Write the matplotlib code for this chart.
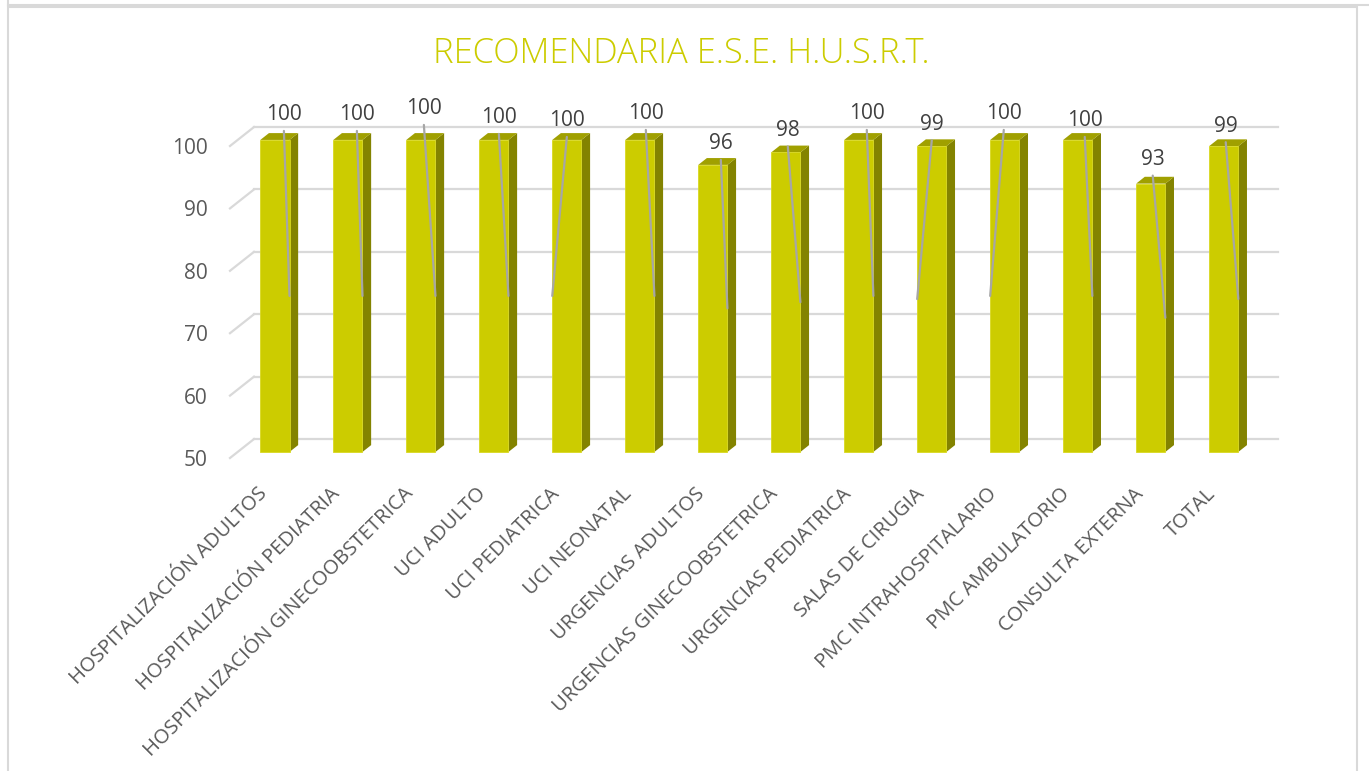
import matplotlib
matplotlib.use("Agg")
import matplotlib.pyplot as plt
from matplotlib.patches import Polygon, Rectangle, ConnectionPatch
from matplotlib.lines import Line2D
from matplotlib.transforms import offset_copy, blended_transform_factory

categories = [
    "HOSPITALIZACIÓN ADULTOS", "HOSPITALIZACIÓN PEDIATRIA",
    "HOSPITALIZACIÓN GINECOOBSTETRICA", "UCI ADULTO", "UCI PEDIATRICA",
    "UCI NEONATAL", "URGENCIAS ADULTOS", "URGENCIAS GINECOOBSTETRICA",
    "URGENCIAS PEDIATRICA", "SALAS DE CIRUGIA", "PMC INTRAHOSPITALARIO",
    "PMC AMBULATORIO", "CONSULTA EXTERNA", "TOTAL",
]
values = [100, 100, 100, 100, 100, 100, 96, 98, 100, 99, 100, 100, 93, 99]
yticks = [50, 60, 70, 80, 90, 100]

# label placement as drawn by Excel (pixel offsets from bar top) and leader side
label_dx = [9, 9, 3, 5, 0, 6, 8, 2, 8, 0, -1, 7, 2, 2]
label_dy = [27, 27, 33, 24, 21, 28, 23, 24, 28, 24, 28, 21, 26, 22]
leader_left = [4, 9, 10]

FRONT = "#CCCC00"
SIDE = "#838300"
TOP = "#A0A000"
GRID = "#D9D9D9"
TXT = "#595959"

plt.rcParams["font.family"] = ["Open Sans", "DejaVu Sans"]

fig = plt.figure(figsize=(13.69, 7.71), dpi=100)
ax = fig.add_axes([230 / 1369, 1 - 458 / 771, 1024 / 1369, 56 * 6.24 / 771])
ax.set_xlim(-0.51, 13.52)
ax.set_ylim(50, 106)
for s in ax.spines.values():
    s.set_visible(False)

# fake 3d depth: back wall shift in data units
kx, kv = 0.329, 3.04
d0, d1 = 0.32, 0.68
w = 0.4
x0, x1 = ax.get_xlim()

for v in yticks:
    ax.add_line(Line2D([x0, x0 + kx], [v, v + kv], color=GRID, lw=1.6, clip_on=False, zorder=1))
    ax.add_line(Line2D([x0 + kx, x1 + kx], [v + kv, v + kv], color=GRID, lw=1.6, clip_on=False, zorder=1))

xs = list(range(len(values)))
base = 50 + d0 * kv
fx = [x + d0 * kx for x in xs]
ax.bar(fx, [v - 50 for v in values], bottom=base, width=w, color=FRONT,
       edgecolor="#D8D820", linewidth=0.6, zorder=3)

ddx, ddv = (d1 - d0) * kx, (d1 - d0) * kv
for c, v in zip(fx, values):
    top = v + d0 * kv
    xl, xr = c - w / 2, c + w / 2
    ax.add_patch(Polygon([(xr, base), (xr, top), (xr + ddx, top + ddv), (xr + ddx, base + ddv)],
                         closed=True, facecolor=SIDE, edgecolor="none", zorder=2, clip_on=False))
    ax.add_patch(Polygon([(xl, top), (xr, top), (xr + ddx, top + ddv), (xl + ddx, top + ddv)],
                         closed=True, facecolor=TOP, edgecolor="none", zorder=2, clip_on=False))

for i, (c, v) in enumerate(zip(fx, values)):
    top = v + d0 * kv
    tr = offset_copy(ax.transData, fig=fig, x=label_dx[i], y=label_dy[i] - 7.5, units="dots")
    ax.text(c, top, str(v), transform=tr, ha="center", va="baseline", fontsize=15,
            color="#404040", zorder=5, clip_on=False)
    tr2 = offset_copy(ax.transData, fig=fig, x=label_dx[i], y=label_dy[i] - 18, units="dots")
    ex = c - w / 2 if i in leader_left else c + w / 2
    con = ConnectionPatch(xyA=(c, top), coordsA=tr2, xyB=(ex, (base + top) / 2),
                          coordsB=ax.transData, color="#A6A6A6", lw=1.6, zorder=4)
    ax.add_artist(con)

ax.set_yticks(yticks)
ax.set_yticklabels([str(t) for t in yticks], fontsize=15, color=TXT)
ax.tick_params(axis="both", length=0)
ax.tick_params(axis="y", pad=16)
ax.set_xticks([])

# category labels, rotated like Excel's
xtr = offset_copy(blended_transform_factory(ax.transData, ax.transAxes), fig=fig,
                  x=-10, y=-26, units="dots")
for x, name in zip(xs, categories):
    ax.text(x, 0, name, transform=xtr, rotation=45, ha="right", va="top",
            rotation_mode="anchor", fontsize=14.6, color=TXT, clip_on=False)

fig.text(0.498, 1 - 63 / 771, "RECOMENDARIA E.S.E. H.U.S.R.T.", ha="center", va="baseline",
         fontsize=24.8, color=FRONT, fontweight="light")

# surrounding chart frame
fig.add_artist(Line2D([8 / 1369, 1], [1 - 4.5 / 771] * 2, transform=fig.transFigure, color=GRID, lw=1.5))
fig.add_artist(Line2D([8 / 1369, 8 / 1369], [1, 1 - 4.5 / 771], transform=fig.transFigure, color=GRID, lw=1.5))
fig.add_artist(Rectangle((8 / 1369, -0.02), (1357 - 8) / 1369, 1.02 - 7 / 771, transform=fig.transFigure,
                         fill=False, edgecolor=GRID, lw=1.5))

fig.savefig("out.png", dpi=100)
